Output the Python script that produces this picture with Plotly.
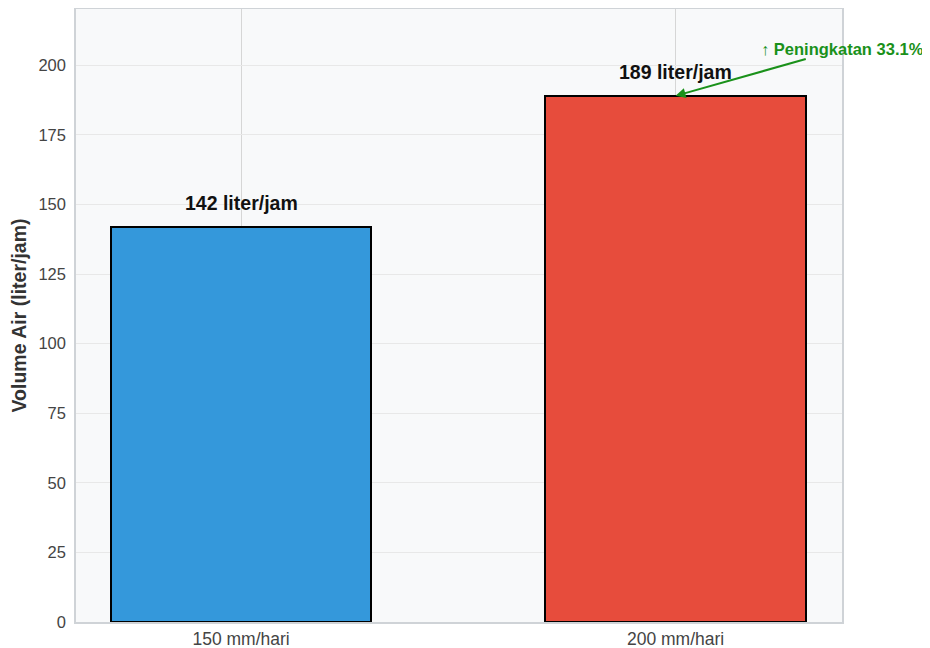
import plotly.graph_objects as go

categories = ["150 mm/hari", "200 mm/hari"]
volumes = [142, 189]
bar_labels = ["142 liter/jam", "189 liter/jam"]
bar_colors = ["#3498db", "#e74c3c"]
increase_text = "↑ Peningkatan 33.1%"
y_ticks = [0, 25, 50, 75, 100, 125, 150, 175, 200]

xpos = list(range(len(categories)))

fig = go.Figure()
fig.add_trace(go.Bar(
    x=xpos, y=volumes, width=0.6,
    marker=dict(color=bar_colors, line=dict(color="black", width=2)),
    showlegend=False, hoverinfo="skip",
))

for xi, v, lab in zip(xpos, volumes, bar_labels):
    fig.add_annotation(x=xi, y=v, text="<b>" + lab + "</b>", showarrow=False,
                       yanchor="bottom", yshift=11,
                       font=dict(size=19.5, color="#111111", family="Liberation Sans"))

fig.add_annotation(
    x=1.0, y=volumes[1], ax=1.385, ay=206, axref="x", ayref="y",
    text="<b>" + increase_text + "</b>", showarrow=True,
    arrowhead=2, arrowsize=1, arrowwidth=2, arrowcolor="#1a911a",
    font=dict(size=16.5, color="#1a911a", family="Liberation Sans"),
)

fig.update_layout(
    width=922, height=640,
    margin=dict(l=68, r=88, t=1, b=26, autoexpand=False),
    paper_bgcolor="white", plot_bgcolor="#f8f9fa",
    font=dict(family="Liberation Sans", size=16, color="#444444"),
    bargap=0,
)
fig.update_xaxes(
    range=[-0.38, 1.383], tickvals=xpos, ticktext=categories,
    showgrid=True, gridcolor="#d6d6d6", gridwidth=1,
    showline=True, linecolor="#cfd3d7", linewidth=1.5, mirror=True,
    ticks="", zeroline=False, tickfont=dict(size=17.5, color="#444444"),
    automargin=False,
)
fig.update_yaxes(
    range=[0, 220.2], tickvals=y_ticks,
    showgrid=True, gridcolor="#e8e8e8", gridwidth=1,
    showline=True, linecolor="#cfd3d7", linewidth=1.5, mirror=True,
    ticks="", zeroline=False, tickfont=dict(size=16.5, color="#444444"),
    ticklabelstandoff=5, automargin=False,
    title=dict(text="<b>Volume Air (liter/jam)</b>", font=dict(size=19.5, color="#333333"), standoff=14),
)

fig.write_html("out.html")
